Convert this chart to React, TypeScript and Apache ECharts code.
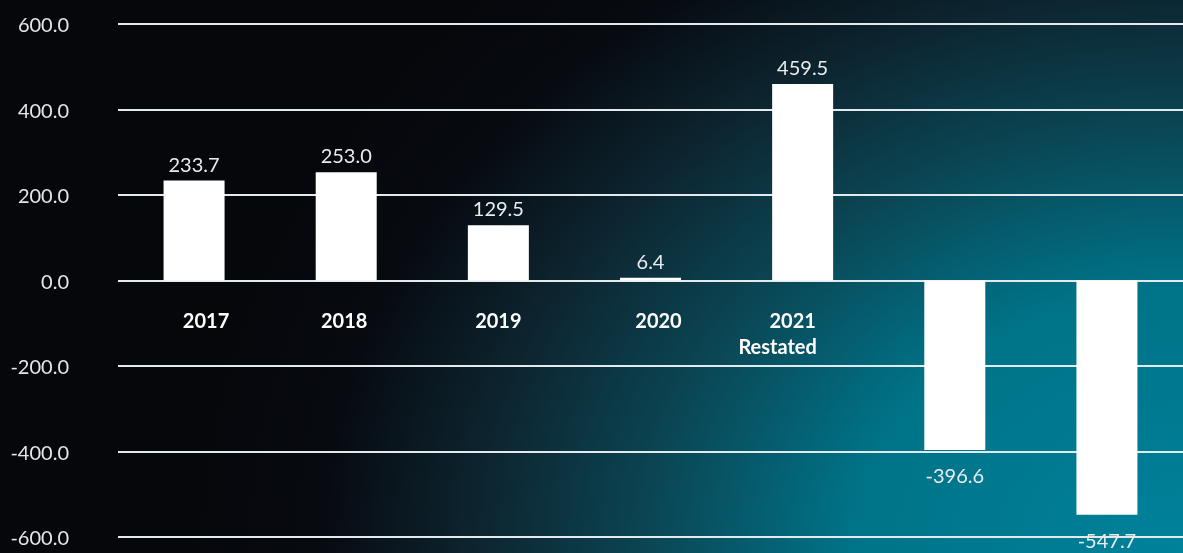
import React, { useEffect, useRef } from "react";
import * as echarts from "echarts";

const categories = ["2017", "2018", "2019", "2020", "2021\nRestated", "2022", "2023"];
const values = [233.7, 253.0, 129.5, 6.4, 459.5, -396.6, -547.7];
const shownLabels = [true, true, true, true, true, false, false];
const yMin = -600;
const yMax = 600;
const yStep = 200;

const FONT = "Lato, 'Open Sans', sans-serif";
const GRID_TOP = 24;
const GRID_BOTTOM = 16;
const HEIGHT = 553;

const catBase = {
  fontFamily: FONT,
  fontWeight: "bold" as const,
  fontSize: 20,
  color: "#ffffff",
  lineHeight: 26,
  align: "center" as const,
};

const richKeys = [["c0"], ["c1"], ["c2"], ["c3"], ["c4a", "c4b"], ["c5"], ["c6"]];

export default function App() {
  const ref = useRef<HTMLDivElement>(null);
  useEffect(() => {
    if (!ref.current) return;
    const chart = echarts.init(ref.current, null, { renderer: "svg" });
    // distance from the bottom of the grid up to the zero line
    const plotH = HEIGHT - GRID_TOP - GRID_BOTTOM;
    const zeroOffset = Math.round((plotH * (0 - yMin)) / (yMax - yMin));
    chart.setOption({
      animation: false,
      backgroundColor: "transparent",
      grid: {
        left: 118,
        right: 0,
        top: GRID_TOP,
        bottom: GRID_BOTTOM,
        containLabel: false,
        outerBoundsMode: "none",
      },
      xAxis: {
        type: "category",
        position: "bottom",
        offset: -zeroOffset,
        data: categories,
        axisLine: { show: false, onZero: false },
        axisTick: { show: false },
        axisLabel: {
          interval: 0,
          margin: 27,
          hideOverlap: false,
          formatter: (value: string, idx: number) => {
            if (!shownLabels[idx]) return "";
            const lines = value.split("\n");
            return lines.map((l, j) => `{${richKeys[idx][j]}|${l}}`).join("\n");
          },
          rich: {
            c0: { ...catBase, padding: [0, 0, 0, 24] },
            c1: { ...catBase, padding: [0, 4, 0, 0] },
            c2: { ...catBase },
            c3: { ...catBase, padding: [0, 0, 0, 16] },
            c4a: { ...catBase, padding: [0, 20, 0, 0] },
            c4b: { ...catBase, padding: [0, 50, 0, 0] },
            c5: { ...catBase },
            c6: { ...catBase },
          },
        },
        splitLine: { show: false },
      },
      yAxis: {
        type: "value",
        min: yMin,
        max: yMax,
        interval: yStep,
        axisLine: { show: false },
        axisTick: { show: false },
        axisLabel: {
          margin: 49,
          color: "#e4e6e8",
          fontFamily: FONT,
          fontSize: 20,
          formatter: (v: number) => v.toFixed(1),
        },
        splitLine: { lineStyle: { color: "#e3eaee", width: 2 } },
      },
      series: [
        {
          type: "bar",
          barWidth: 61,
          itemStyle: { color: "#ffffff" },
          data: values.map((v) => ({
            value: v,
            label: {
              show: true,
              position: v < 0 ? "bottom" : "top",
              distance: v < 0 ? 15 : 7,
              color: "#e8ecee",
              fontFamily: FONT,
              fontSize: 20,
              formatter: () => v.toFixed(1),
            },
          })),
        },
      ],
    });
    return () => chart.dispose();
  }, []);
  return (
    <div
      style={{
        position: "fixed",
        left: 0,
        top: 0,
        width: 1183,
        height: 553,
        background:
          "radial-gradient(ellipse 85% 145% at 100% 100%, #00829b 0%, #007388 33%, #0b4452 54%, #0d2530 70%, #070a10 86%, #05070b 100%)",
      }}
    >
      <div ref={ref} style={{ width: 1183, height: 553 }} />
    </div>
  );
}
